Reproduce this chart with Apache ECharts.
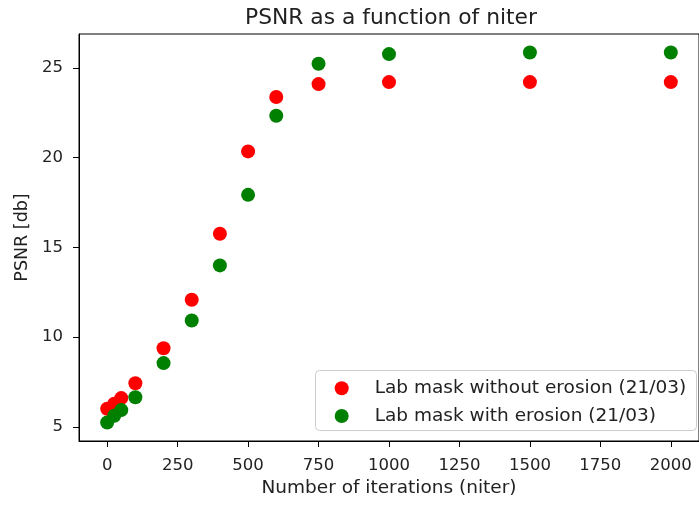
<!DOCTYPE html>
<html>
<head>
<meta charset="utf-8">
<script src="https://cdn.jsdelivr.net/npm/echarts@6/dist/echarts.min.js"></script>
<style>
html,body{margin:0;padding:0;background:#fff;}
#chart{width:699px;height:505px;}
</style>
</head>
<body>
<div id="chart"></div>
<script>
const niter = [0, 25, 50, 100, 200, 300, 400, 500, 600, 750, 1000, 1500, 2000];
const psnrNoErosion = [6.01, 6.29, 6.60, 7.43, 9.38, 12.08, 15.75, 20.34, 23.37, 24.09, 24.20, 24.20, 24.20];
const psnrErosion = [5.24, 5.62, 5.93, 6.65, 8.55, 10.92, 13.99, 17.92, 22.33, 25.22, 25.76, 25.85, 25.85];
const xTicks = [0, 250, 500, 750, 1000, 1250, 1500, 1750, 2000];
const yTicks = [5, 10, 15, 20, 25];
const seriesNames = ['Lab mask without erosion (21/03)', 'Lab mask with erosion (21/03)'];

const FONT = 'DejaVu Sans';
const TXT = '#222';

const allY = psnrNoErosion.concat(psnrErosion);
const yLo = Math.min(...allY), yHi = Math.max(...allY);
const yPad = (yHi - yLo) * 0.05;
const xLo = Math.min(...niter), xHi = Math.max(...niter);
const xPad = (xHi - xLo) * 0.05;

const chart = echarts.init(document.getElementById('chart'), null, {renderer: 'canvas'});
chart.setOption({
  animation: false,
  backgroundColor: '#fff',
  title: {
    text: 'PSNR as a function of niter',
    left: 240, top: 2,
    textStyle: {fontFamily: FONT, fontSize: 21.8, fontWeight: 'normal', color: TXT}
  },
  grid: {
    left: 79, top: 34, width: 627, height: 407,
    show: true, borderColor: '#000', borderWidth: 1, backgroundColor: 'transparent'
  },
  graphic: [{
    type: 'rect', z: 3,
    shape: {x: 315.5, y: 370.5, width: 381, height: 60, r: 4},
    style: {fill: 'rgba(255,255,255,0.8)', stroke: '#cccccc', lineWidth: 1}
  }],
  legend: {
    z: 5,
    orient: 'vertical',
    left: 334.7, top: 378.3,
    padding: 0,
    itemWidth: 14, itemHeight: 14, itemGap: 7.7,
    icon: 'circle',
    data: seriesNames,
    textStyle: {fontFamily: FONT, fontSize: 18.5, color: TXT, lineHeight: 20, padding: [0, 0, 0, 21]}
  },
  xAxis: {
    type: 'value',
    min: xLo - xPad, max: xHi + xPad,
    name: 'Number of iterations (niter)',
    nameLocation: 'middle', nameGap: 36,
    nameTextStyle: {fontFamily: FONT, fontSize: 18.5, color: TXT},
    axisLine: {show: true, onZero: false, lineStyle: {color: '#000', width: 1}},
    axisTick: {show: true, inside: false, length: 6, customValues: xTicks, lineStyle: {color: '#000', width: 1}},
    axisLabel: {customValues: xTicks, margin: 16, fontFamily: FONT, fontSize: 16.5, color: TXT,
      formatter: v => String(v)},
    splitLine: {show: false}
  },
  yAxis: {
    type: 'value',
    min: yLo - yPad, max: yHi + yPad,
    name: 'PSNR [db]',
    nameLocation: 'middle', nameGap: 45, nameRotate: 90,
    nameTextStyle: {fontFamily: FONT, fontSize: 17.5, color: TXT},
    axisLine: {show: true, onZero: false, lineStyle: {color: '#000', width: 1}},
    axisTick: {show: true, inside: false, length: 6, customValues: yTicks, lineStyle: {color: '#000', width: 1}},
    axisLabel: {customValues: yTicks, margin: 16, fontFamily: FONT, fontSize: 16.5, color: TXT,
      formatter: v => String(v)},
    splitLine: {show: false}
  },
  series: [
    {
      name: seriesNames[0], type: 'scatter', symbol: 'circle', symbolSize: 14,
      itemStyle: {color: '#ff0000', opacity: 1},
      data: niter.map((x, i) => [x, psnrNoErosion[i]])
    },
    {
      name: seriesNames[1], type: 'scatter', symbol: 'circle', symbolSize: 14,
      itemStyle: {color: '#008000', opacity: 1},
      data: niter.map((x, i) => [x, psnrErosion[i]])
    }
  ]
});
</script>
</body>
</html>
